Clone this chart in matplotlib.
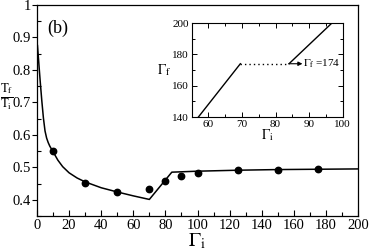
import matplotlib
matplotlib.use("Agg")
import matplotlib.pyplot as plt
from matplotlib.ticker import MultipleLocator, FixedLocator, FixedFormatter

plt.rcParams['font.family'] = ['Liberation Serif', 'DejaVu Serif']
plt.rcParams['mathtext.fontset'] = 'stix'

# ---- data ----
gamma_pts = [10, 30, 50, 70, 80, 90, 100, 125, 150, 175]
ratio_pts = [0.551, 0.453, 0.423, 0.434, 0.459, 0.473, 0.481, 0.491, 0.492, 0.494]

curve_gamma = [0.3, 1, 1.5, 2, 3, 4, 5, 6, 7, 8, 10, 13, 16, 20, 25, 30, 40, 50, 60, 70,
               84, 100, 125, 150, 175, 200]
curve_ratio = [0.875, 0.83, 0.797, 0.765, 0.705, 0.652, 0.612, 0.59, 0.576, 0.565,
               0.548, 0.522, 0.502, 0.483, 0.467, 0.455, 0.437, 0.424, 0.412, 0.401,
               0.485, 0.488, 0.491, 0.493, 0.494, 0.495]

x_ticks = [0, 20, 40, 60, 80, 100, 120, 140, 160, 180, 200]
x_labels = ['0', '20', '40', '60', '80', '100', '120', '140', '160', '180', '200']
y_ticks = [0.4, 0.5, 0.6, 0.7, 0.8, 0.9, 1.0]
y_labels = ['0.4', '0.5', '0.6', '0.7', '0.8', '0.9', '1']

inset_low_gi = [57, 69.5]
inset_low_gf = [140, 174]
inset_flat_gi = [69.5, 84]
inset_flat_gf = [174, 174]
inset_high_gi = [84, 96.8]
inset_high_gf = [174, 200]
inset_xticks = [60, 70, 80, 90, 100]
inset_yticks = [140, 160, 180, 200]

# ---- figure ----
fig = plt.figure(figsize=(3.71, 2.52), dpi=100)
ax = fig.add_axes([0.0997, 0.1429, 0.8653, 0.8373])

ax.plot(curve_gamma, curve_ratio, color='black', lw=1.1)
ax.plot(gamma_pts, ratio_pts, 'o', color='black', ms=4.6)

ax.set_xlim(0, 200)
ax.set_ylim(0.35, 1.0)
ax.xaxis.set_major_locator(FixedLocator(x_ticks))
ax.xaxis.set_major_formatter(FixedFormatter(x_labels))
ax.xaxis.set_minor_locator(MultipleLocator(10))
ax.yaxis.set_major_locator(FixedLocator(y_ticks))
ax.yaxis.set_major_formatter(FixedFormatter(y_labels))
ax.yaxis.set_minor_locator(MultipleLocator(0.05))
ax.tick_params(axis='x', which='both', direction='in', top=False, labelsize=10.5, pad=2)
ax.tick_params(axis='x', which='major', length=4.5, width=0.8)
ax.tick_params(axis='x', which='minor', length=3, width=0.8)
ax.tick_params(axis='y', which='major', direction='out', right=False, length=3.5, width=0.8,
               labelsize=10.5, pad=1)
ax.tick_params(axis='y', which='minor', direction='in', right=False, length=3, width=0.8)
for s in ax.spines.values():
    s.set_linewidth(0.9)

ax.text(0.033, 0.93, '(b)', transform=ax.transAxes, fontsize=13, va='top', ha='left')
fig.text(0.53, 0.042, r'$\Gamma_\mathrm{i}$', fontsize=14.5, ha='center', va='center')
fig.text(0.019, 0.612, r'$\frac{\mathrm{T}_\mathrm{f}}{\mathrm{T}_\mathrm{i}}$', fontsize=13,
         ha='center', va='center')

# ---- inset ----
ins = fig.add_axes([0.5167, 0.5357, 0.4070, 0.3730])
ins.plot(inset_low_gi, inset_low_gf, color='black', lw=1.0)
ins.plot(inset_flat_gi, inset_flat_gf, color='black', lw=1.0, ls=(0, (1, 2.2)))
ins.plot(inset_high_gi, inset_high_gf, color='black', lw=1.0)
ins.annotate('', xy=(88, 174), xytext=(84, 174),
             arrowprops=dict(arrowstyle='-|>', color='black', lw=0.8,
                             mutation_scale=6, shrinkA=0, shrinkB=0))
ins.text(88.2, 174, r'$\Gamma_\mathrm{f}$ =174', fontsize=8, va='center', ha='left')
ins.set_xlim(55, 100)
ins.set_ylim(140, 200)
ins.xaxis.set_major_locator(FixedLocator(inset_xticks))
ins.xaxis.set_minor_locator(MultipleLocator(5))
ins.yaxis.set_major_locator(FixedLocator(inset_yticks))
ins.yaxis.set_minor_locator(MultipleLocator(10))
ins.tick_params(which='both', direction='in', top=True, right=True, labelsize=8, pad=2)
ins.tick_params(which='major', length=3.5, width=0.7)
ins.tick_params(which='minor', length=2, width=0.7)
for s in ins.spines.values():
    s.set_linewidth(0.8)
ins.set_xlabel(r'$\Gamma_\mathrm{i}$', fontsize=10, labelpad=-1)
ins.set_ylabel(r'$\Gamma_\mathrm{f}$', fontsize=10, rotation=0, labelpad=6, va='center')

fig.savefig('out.png', dpi=100)
